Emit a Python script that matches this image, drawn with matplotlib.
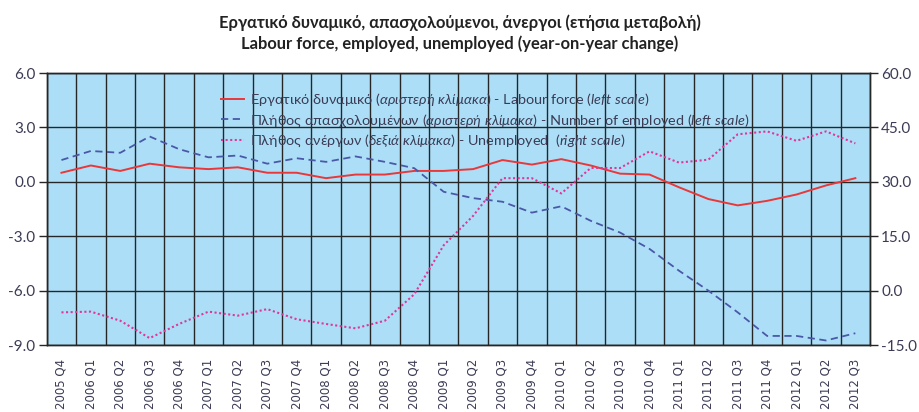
import matplotlib
matplotlib.use("Agg")
import matplotlib.pyplot as plt
import numpy as np
from matplotlib.ticker import FixedLocator, FormatStrFormatter

quarters = ["2005 Q4",
            "2006 Q1", "2006 Q2", "2006 Q3", "2006 Q4",
            "2007 Q1", "2007 Q2", "2007 Q3", "2007 Q4",
            "2008 Q1", "2008 Q2", "2008 Q3", "2008 Q4",
            "2009 Q1", "2009 Q2", "2009 Q3", "2009 Q4",
            "2010 Q1", "2010 Q2", "2010 Q3", "2010 Q4",
            "2011 Q1", "2011 Q2", "2011 Q3", "2011 Q4",
            "2012 Q1", "2012 Q2", "2012 Q3"]

labour_force = [0.5, 0.9, 0.6, 1.0, 0.8, 0.7, 0.8, 0.5, 0.5, 0.2, 0.4, 0.4,
                0.6, 0.6, 0.7, 1.2, 0.95, 1.25, 0.9, 0.45, 0.4, -0.3, -0.95,
                -1.3, -1.05, -0.7, -0.2, 0.2]
employed = [1.2, 1.7, 1.6, 2.5, 1.8, 1.35, 1.45, 1.0, 1.3, 1.1, 1.4, 1.1,
            0.75, -0.55, -0.9, -1.1, -1.7, -1.35, -2.15, -2.8, -3.7, -4.9,
            -6.0, -7.2, -8.5, -8.5, -8.75, -8.35]
unemployed = [-6.0, -5.8, -8.3, -13.1, -9.2, -5.8, -6.9, -5.1, -7.9, -9.2,
              -10.4, -8.3, -1.0, 12.5, 20.6, 31.0, 31.0, 26.8, 33.8, 33.8,
              38.4, 35.3, 36.1, 43.1, 43.9, 41.3, 43.9, 40.6]

left_ticks = [-9.0, -6.0, -3.0, 0.0, 3.0, 6.0]
right_ticks = [-15.0, 0.0, 15.0, 30.0, 45.0, 60.0]

title_gr = "Εργατικό δυναμικό, απασχολούμενοι, άνεργοι (ετήσια μεταβολή)"
title_en = "Labour force, employed, unemployed (year-on-year change)"
lbl_lf = r"Εργατικό δυναμικό $\mathit{(αριστερή\ κλίμακα)}$ - Labour force $\mathit{(left\ scale)}$"
lbl_emp = r"Πλήθος απασχολουμένων $\mathit{(αριστερή\ κλίμακα)}$ - Number of employed $\mathit{(left\ scale)}$"
lbl_un = r"Πλήθος ανέργων $\mathit{(δεξιά\ κλίμακα)}$ - Unemployed  $\mathit{(right\ scale)}$"

plt.rcParams['font.family'] = ['Lato', 'DejaVu Sans']
plt.rcParams['mathtext.fontset'] = 'custom'
plt.rcParams['mathtext.rm'] = 'Lato'
plt.rcParams['mathtext.it'] = 'Lato:italic'
plt.rcParams['mathtext.bf'] = 'Lato:bold'

txt_col = "#3b3b55"
grid_col = "#262626"
bg = "#acdff7"

fig = plt.figure(figsize=(9.2, 4.12), dpi=100)
ax = fig.add_axes([0.0508, 0.1626, 0.8949, 0.6602])
ax.set_facecolor(bg)
ax2 = ax.twinx()

x = np.arange(len(quarters))
l1, = ax.plot(x, labour_force, color="#e8383a", lw=1.4)
l2, = ax.plot(x, employed, color="#4a58a8", lw=1.3, ls=(0, (4, 2.5)))
l3, = ax2.plot(x, unemployed, color="#e0369a", lw=1.5, ls=(0, (1, 1.2)))

ax.set_xlim(-0.5, len(quarters) - 0.5)
ax.set_ylim(-9, 6)
ax2.set_ylim(-15, 60)
ax.set_yticks(left_ticks)
ax2.set_yticks(right_ticks)
ax.yaxis.set_major_formatter(FormatStrFormatter('%.1f'))
ax2.yaxis.set_major_formatter(FormatStrFormatter('%.1f'))

ax.set_xticks(x)
ax.set_xticklabels(quarters, rotation=90, fontsize=8.5, color=txt_col, family='DejaVu Sans')
ax.xaxis.set_minor_locator(FixedLocator(np.arange(-0.5, len(quarters), 1.0)))
ax.tick_params(axis='x', which='major', length=0, pad=10)
ax.tick_params(axis='x', which='minor', length=0)
ax.grid(True, which='minor', axis='x', color=grid_col, lw=1.0)
ax.grid(True, which='major', axis='y', color=grid_col, lw=1.0)
ax.grid(False, which='major', axis='x')

ax.tick_params(axis='y', length=6, width=1, color=grid_col, labelsize=11, labelcolor=txt_col, pad=2)
ax2.tick_params(axis='y', length=6, width=1, color=grid_col, labelsize=11, labelcolor=txt_col, pad=2)
for a in (ax, ax2):
    for s in a.spines.values():
        s.set_color(grid_col)
        s.set_linewidth(1.0)

leg = ax.legend([l1, l2, l3], [lbl_lf, lbl_emp, lbl_un], loc='upper left',
                bbox_to_anchor=(0.205, 0.955), frameon=False, fontsize=10.4,
                handlelength=1.6, handletextpad=0.4, labelspacing=0.28,
                borderaxespad=0)
for t in leg.get_texts():
    t.set_color(txt_col)

fig.text(0.5, 0.945, title_gr, ha='center', va='center', fontsize=11.9,
         fontweight='bold', color='#222222')
fig.text(0.5, 0.893, title_en, ha='center', va='center', fontsize=11.9,
         fontweight='bold', color='#222222')

fig.savefig("out.png", dpi=100)
